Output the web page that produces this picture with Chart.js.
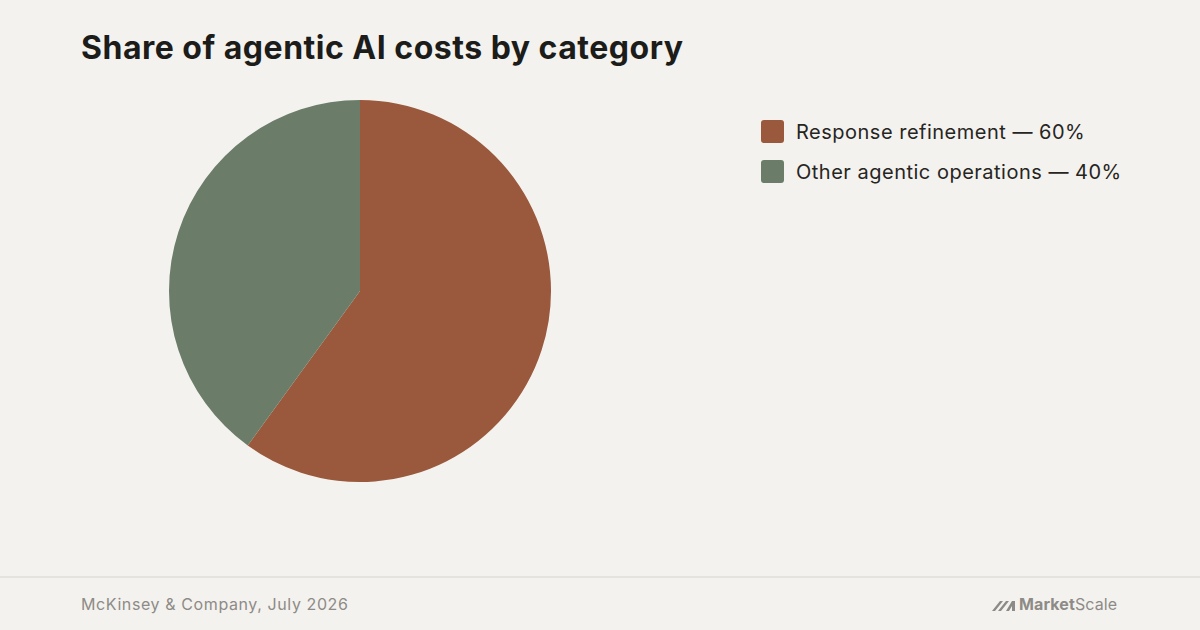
<!DOCTYPE html>
<html><head><meta charset="utf-8">
<script src="https://cdn.jsdelivr.net/npm/chart.js@4"></script>
<style>
html,body{margin:0;padding:0;}
body{width:1200px;height:630px;background:#f4f2ee;position:relative;overflow:hidden;font-family:Inter,"Noto Sans",sans-serif;}
#title{position:absolute;left:81px;top:28px;font-size:32px;font-weight:700;color:#1c1c1a;letter-spacing:0.5px;}
#wrap{position:absolute;left:159px;top:90px;width:402px;height:402px;}
#legend{position:absolute;left:761px;top:120px;}
.item{display:flex;align-items:center;height:23px;margin-bottom:17px;font-size:20px;color:#26251f;letter-spacing:0.5px;}
.sw{width:23px;height:23px;border-radius:3px;margin-right:12px;}
#rule{position:absolute;left:0;top:576px;width:1200px;height:2px;background:#e5e3de;}
#src{position:absolute;left:81px;top:594px;font-size:16px;color:#8d8b87;letter-spacing:0.6px;}
#logo{position:absolute;left:991px;top:594px;font-size:16px;color:#8d8b87;letter-spacing:0.1px;}
</style></head><body>
<div id="title">Share of agentic AI costs by category</div>
<div id="wrap"><canvas id="c"></canvas></div>
<div id="legend"></div>
<div id="rule"></div>
<div id="src">McKinsey &amp; Company, July 2026</div>
<div id="logo"><svg width="28" height="12" viewBox="0 0 26 12" style="vertical-align:-1px"><path d="M0 12 L8 2 L11 2 L3 12Z M6 12 L14 2 L17 2 L9 12Z M14 12 L20 2 L23 2 L23 12 L20 12 L20 7 L17 12Z" fill="#8d8b87"/></svg><b>Market</b>Scale</div>
<script>
const categories = ["Response refinement", "Other agentic operations"];
const values = [60, 40];
const colors = ["#9a583c", "#6b7d69"];
const lg = document.getElementById('legend');
categories.forEach((c,i)=>{
  const d=document.createElement('div');d.className='item';
  d.innerHTML='<span class="sw" style="background:'+colors[i]+'"></span>'+c+' — '+values[i]+'%';
  lg.appendChild(d);
});
new Chart(document.getElementById('c'),{
  type:'pie',
  data:{labels:categories,datasets:[{data:values,backgroundColor:colors,borderWidth:0}]},
  options:{responsive:true,maintainAspectRatio:false,animation:false,layout:{padding:10},
    plugins:{legend:{display:false},tooltip:{enabled:false}}}
});
</script>
</body></html>
